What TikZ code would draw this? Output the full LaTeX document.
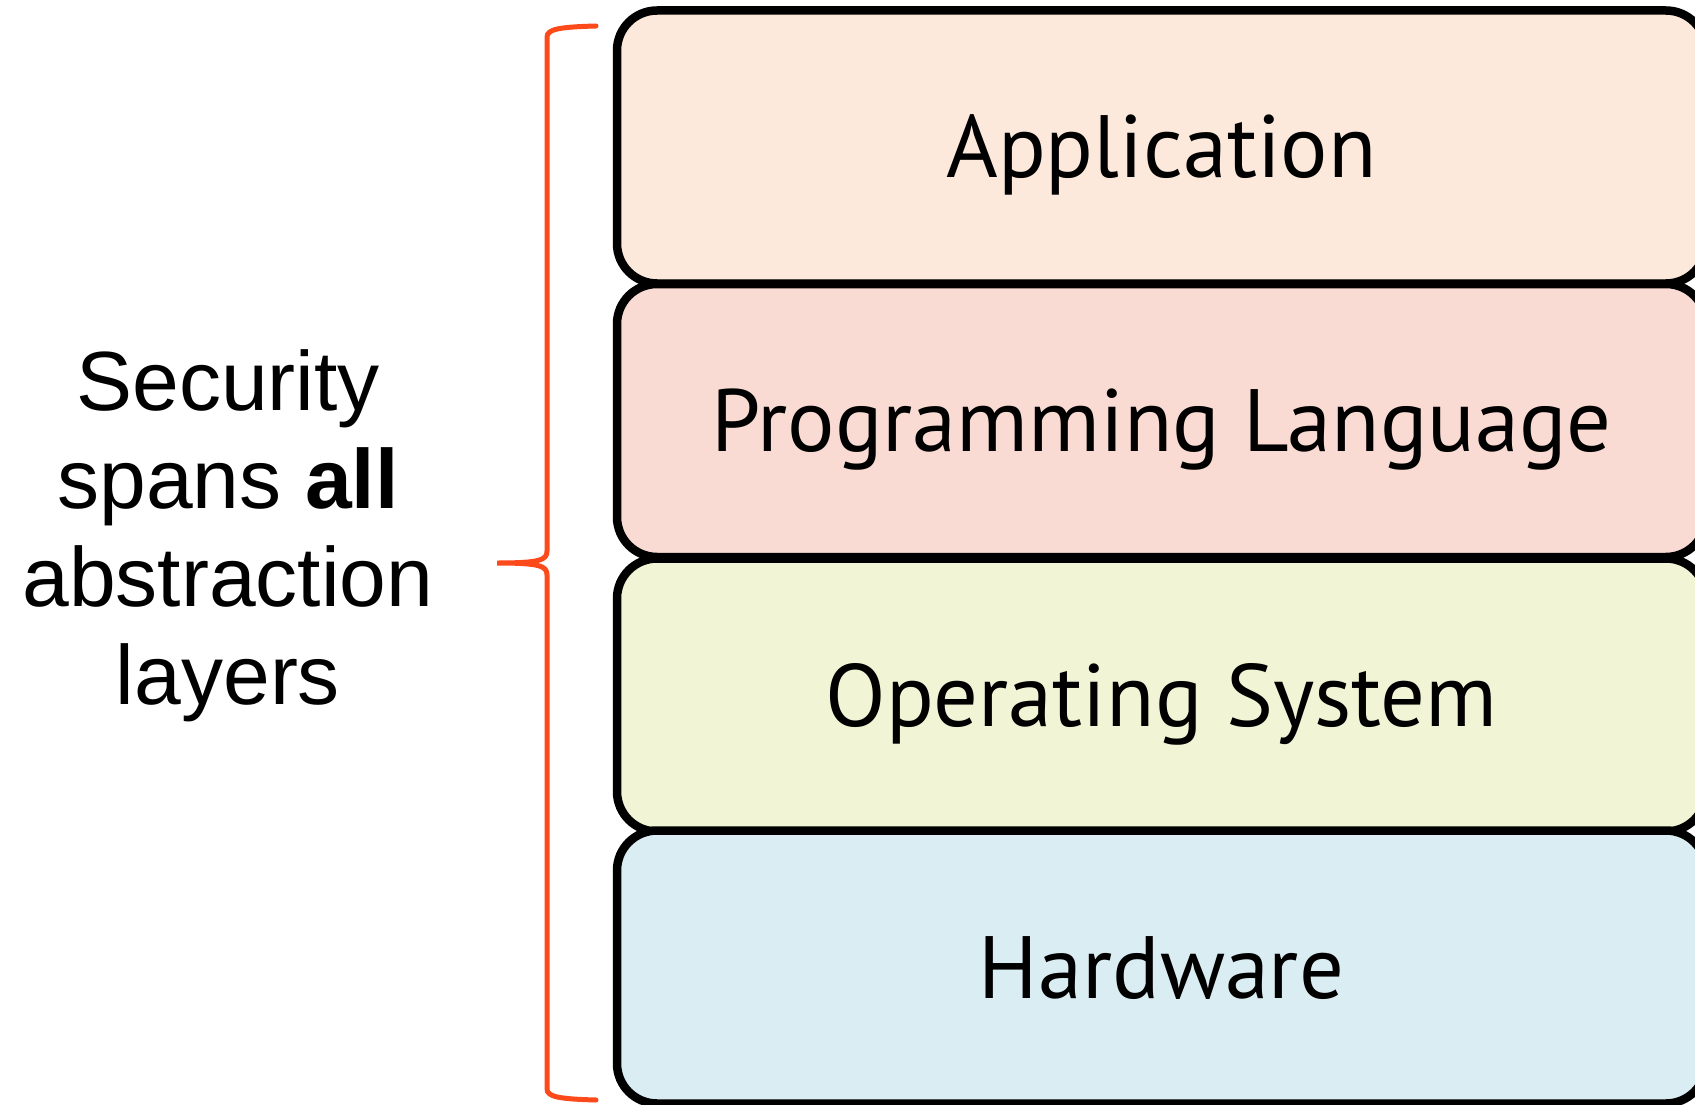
\documentclass[tikz,border=0pt]{standalone}
\usepackage{fontspec}
\setmainfont{Liberation Sans}
\newfontfamily\boxfont{PT Sans}
\definecolor{appfill}{HTML}{FCE9DB}
\definecolor{plfill}{HTML}{FADBD3}
\definecolor{osfill}{HTML}{F1F5D5}
\definecolor{hwfill}{HTML}{DAEDF3}
\definecolor{bracecol}{HTML}{FC4A1A}
\begin{document}
\begin{tikzpicture}[x=1pt,y=-1pt,
  layer/.style={draw=black, line width=8.5pt, rounded corners=40pt,
    minimum width=1089pt, minimum height=273pt, inner sep=0pt,
    text height=62pt, text depth=0pt,
    font=\boxfont\fontsize{88.5}{100}\selectfont},
  bracepath/.style={draw=bracecol, line width=5pt, line cap=round}]
\useasboundingbox (0,0) rectangle (1695,1105);
\node[layer, fill=appfill] (app) at (1161.5,147) {Application};
\node[layer, fill=plfill] (pl) at (1161.5,420.5) {Programming Language};
\node[layer, fill=osfill] (os) at (1161.5,695) {Operating System};
\node[layer, fill=hwfill] (hw) at (1161.5,967) {Hardware};
\coordinate (btop) at (596,26);
\coordinate (btip) at (497,563);
\coordinate (bbot) at (596,1100);
\path[bracepath] (btop) .. controls (560,27) and (547,29) .. (547,37)
  -- (547,551) .. controls (547,560) and (540,563) .. (btip)
  .. controls (540,563) and (547,566) .. (547,575)
  -- (547,1089) .. controls (547,1097) and (560,1099) .. (bbot);
\node[align=center, font=\fontsize{84}{98}\selectfont, inner sep=0pt] (label) at (228,536)
  {Security\\spans \textbf{all}\\abstraction\\layers};
\end{tikzpicture}
\end{document}
